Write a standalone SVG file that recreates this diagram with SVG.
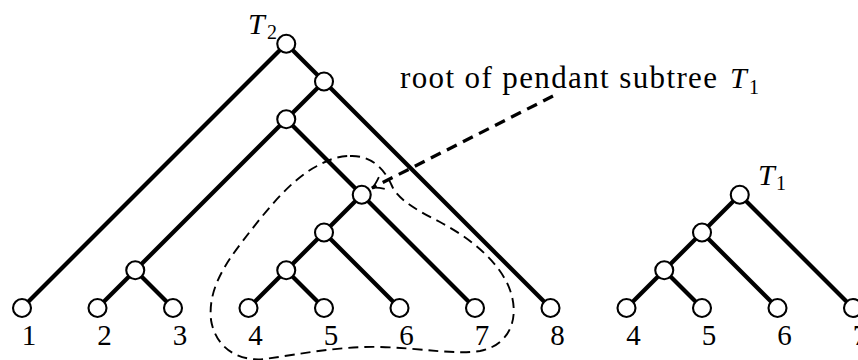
<svg xmlns="http://www.w3.org/2000/svg" width="858" height="360" viewBox="0 0 858 360">
<style>
.e{stroke:#000;stroke-width:4.2;fill:none;stroke-linecap:butt}
.n{fill:#fff;stroke:#000;stroke-width:2.1}
.lbl{font-family:"Liberation Serif",serif;font-size:29px;fill:#000;text-anchor:middle}
.cal{font-family:"Liberation Serif",serif;font-style:italic;fill:#000}
.sub{font-family:"Liberation Serif",serif;fill:#000}
.txt{font-family:"Liberation Serif",serif;font-size:31px;fill:#000}
</style>
<defs>
<marker id="ah" markerUnits="userSpaceOnUse" markerWidth="20" markerHeight="20" refX="0" refY="0" viewBox="-12 -10 14 20" orient="auto">
<path d="M -11,-6.5 Q -4,-1 0,0 Q -4,1 -11,6.5" fill="none" stroke="#000" stroke-width="1.8" stroke-dasharray="none"/>
</marker>
</defs>
<rect width="858" height="360" fill="#fff"/>
<g id="connectors">
<line class="e" x1="286.25" y1="43.75" x2="22" y2="308"/>
<line class="e" x1="286.25" y1="43.75" x2="324" y2="81.5"/>
<line class="e" x1="324" y1="81.5" x2="286.25" y2="119.25"/>
<line class="e" x1="324" y1="81.5" x2="550.5" y2="308"/>
<line class="e" x1="286.25" y1="119.25" x2="135.25" y2="270.25"/>
<line class="e" x1="286.25" y1="119.25" x2="361.75" y2="194.75"/>
<line class="e" x1="135.25" y1="270.25" x2="97.5" y2="308"/>
<line class="e" x1="135.25" y1="270.25" x2="173" y2="308"/>
<line class="e" x1="361.75" y1="194.75" x2="324" y2="232.5"/>
<line class="e" x1="361.75" y1="194.75" x2="475" y2="308"/>
<line class="e" x1="324" y1="232.5" x2="286.25" y2="270.25"/>
<line class="e" x1="324" y1="232.5" x2="399.5" y2="308"/>
<line class="e" x1="286.25" y1="270.25" x2="248.5" y2="308"/>
<line class="e" x1="286.25" y1="270.25" x2="324" y2="308"/>
<line class="e" x1="739.75" y1="194.75" x2="702" y2="232.5"/>
<line class="e" x1="739.75" y1="194.75" x2="853" y2="308"/>
<line class="e" x1="702" y1="232.5" x2="664.25" y2="270.25"/>
<line class="e" x1="702" y1="232.5" x2="777.5" y2="308"/>
<line class="e" x1="664.25" y1="270.25" x2="626.5" y2="308"/>
<line class="e" x1="664.25" y1="270.25" x2="702" y2="308"/>
<path d="M 350,156 C 372,155 385,170 392,186 C 398,200 420,212 440,222 C 470,238 500,262 510,290 C 520,318 510,345 480,351 C 455,355 420,348 380,347 C 340,346 300,354 265,359 C 235,362 215,345 211,320 C 208,292 222,268 242,242 C 265,212 290,180 317,166 C 328,160 338,156 350,156 Z" fill="none" stroke="#000" stroke-width="1.9" stroke-dasharray="10,6"/>
<line x1="553" y1="96" x2="372" y2="188" stroke="#000" stroke-width="3.3" stroke-dasharray="11,7" marker-end="url(#ah)"/>
</g>
<g id="T2-root"><circle class="n" cx="286.25" cy="43.75" r="9"/></g>
<g id="T2-n1"><circle class="n" cx="324" cy="81.5" r="9"/></g>
<g id="T2-n2"><circle class="n" cx="286.25" cy="119.25" r="9"/></g>
<g id="T2-n23"><circle class="n" cx="135.25" cy="270.25" r="9"/></g>
<g id="T2-n4567"><circle class="n" cx="361.75" cy="194.75" r="9"/></g>
<g id="T2-n456"><circle class="n" cx="324" cy="232.5" r="9"/></g>
<g id="T2-n45"><circle class="n" cx="286.25" cy="270.25" r="9"/></g>
<g id="T2-leaf1"><circle class="n" cx="22" cy="308" r="9"/><text class="lbl" x="29" y="345">1</text></g>
<g id="T2-leaf2"><circle class="n" cx="97.5" cy="308" r="9"/><text class="lbl" x="104.5" y="345">2</text></g>
<g id="T2-leaf3"><circle class="n" cx="173" cy="308" r="9"/><text class="lbl" x="180" y="345">3</text></g>
<g id="T2-leaf4"><circle class="n" cx="248.5" cy="308" r="9"/><text class="lbl" x="255.5" y="345">4</text></g>
<g id="T2-leaf5"><circle class="n" cx="324" cy="308" r="9"/><text class="lbl" x="331" y="345">5</text></g>
<g id="T2-leaf6"><circle class="n" cx="399.5" cy="308" r="9"/><text class="lbl" x="406.5" y="345">6</text></g>
<g id="T2-leaf7"><circle class="n" cx="475" cy="308" r="9"/><text class="lbl" x="482" y="345">7</text></g>
<g id="T2-leaf8"><circle class="n" cx="550.5" cy="308" r="9"/><text class="lbl" x="557.5" y="345">8</text></g>
<g id="T1-root"><circle class="n" cx="739.75" cy="194.75" r="9"/></g>
<g id="T1-n456"><circle class="n" cx="702" cy="232.5" r="9"/></g>
<g id="T1-n45"><circle class="n" cx="664.25" cy="270.25" r="9"/></g>
<g id="T1-leaf4"><circle class="n" cx="626.5" cy="308" r="9"/><text class="lbl" x="633.5" y="345">4</text></g>
<g id="T1-leaf5"><circle class="n" cx="702" cy="308" r="9"/><text class="lbl" x="709" y="345">5</text></g>
<g id="T1-leaf6"><circle class="n" cx="777.5" cy="308" r="9"/><text class="lbl" x="784.5" y="345">6</text></g>
<g id="T1-leaf7"><circle class="n" cx="853" cy="308" r="9"/><text class="lbl" x="860" y="345">7</text></g>
<g id="label-T2"><text class="cal" x="248" y="34" font-size="30">T</text><text class="sub" x="267" y="39" font-size="20">2</text></g>
<g id="label-T1"><text class="cal" x="758" y="185" font-size="30">T</text><text class="sub" x="776" y="190" font-size="20">1</text></g>
<g id="label-root"><text class="txt" x="400" y="88" textLength="317" lengthAdjust="spacing">root of pendant subtree</text><text class="cal" x="730" y="88" font-size="30">T</text><text class="sub" x="749" y="94" font-size="20">1</text></g>
</svg>
